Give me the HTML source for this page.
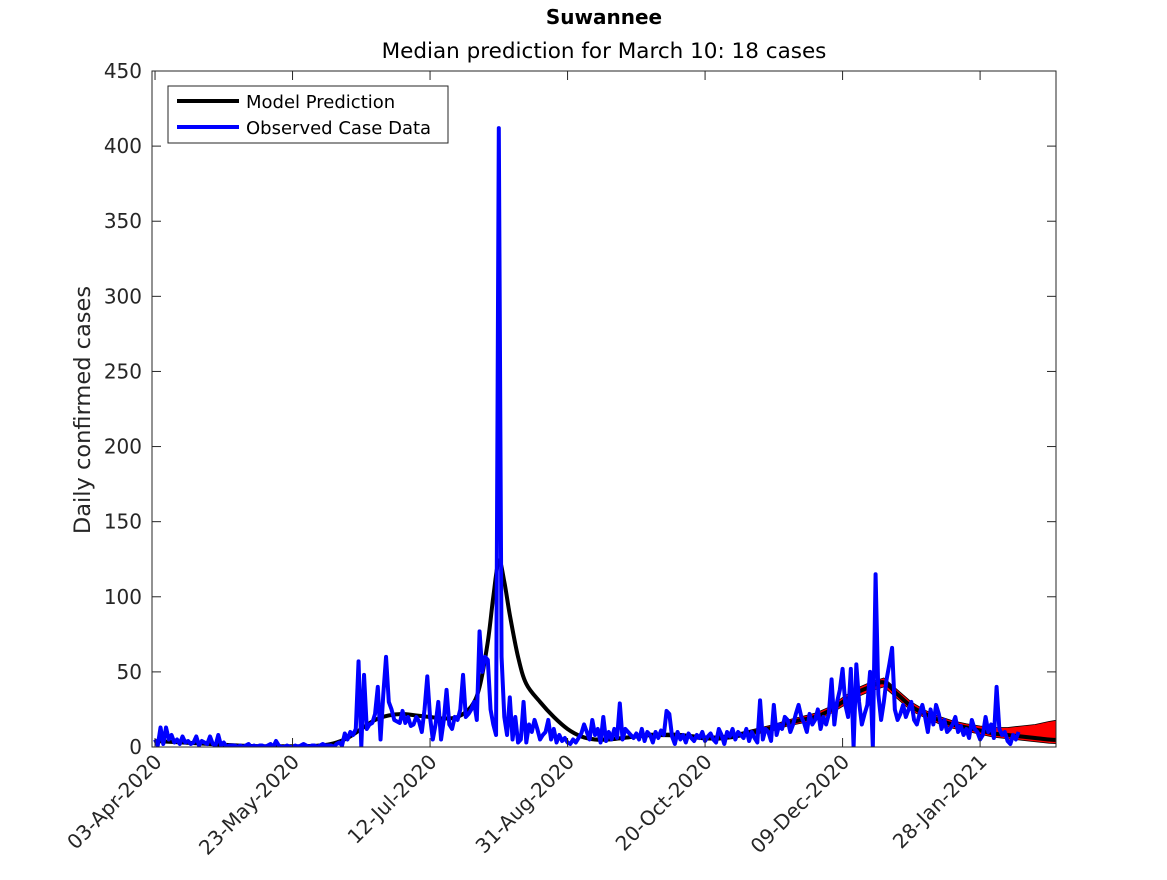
<!DOCTYPE html>
<html><head><meta charset="utf-8"><style>
html,body{margin:0;padding:0;background:#fff;}
svg text{font-family:"DejaVu Sans","Liberation Sans",sans-serif;fill:#262626;}
</style></head><body>
<svg id="chart" width="1167" height="875" viewBox="0 0 1167 875" xmlns="http://www.w3.org/2000/svg">
<rect x="0" y="0" width="1167" height="875" fill="#fff"/>
<text x="604" y="24" text-anchor="middle" font-size="20" font-weight="bold" style="fill:#000">Suwannee</text>
<text x="604" y="58" text-anchor="middle" font-size="21.5" style="fill:#000">Median prediction for March 10: 18 cases</text>
<text transform="translate(90,410) rotate(-90)" text-anchor="middle" font-size="22.5">Daily confirmed cases</text>
<g id="plot"></g>
</svg>
<script>
const tickDays = [0,50,100,150,200,250,300];
const tickLabels = ["03-Apr-2020","23-May-2020","12-Jul-2020","31-Aug-2020","20-Oct-2020","09-Dec-2020","28-Jan-2021"];
const yTicks = [0,50,100,150,200,250,300,350,400,450];
const modelDays = [0,5,10,15,20,25,30,35,40,45,50,55,60,65,70,75,80,85,90,95,100,105,110,115,118,121,123,125,127,129,132,135,140,145,150,155,160,165,170,175,180,185,190,195,200,205,210,215,220,225,230,235,240,245,250,255,260,265,270,275,280,285,290,295,300,305,310,315,320,325,330];
const modelVals = [4,3.5,3,2.5,2,1.5,1,0.7,0.5,0.5,0.5,0.6,1,2.5,6,12,18,21,22,21,20,19,20,27,40,70,100,124,110,88,60,42,30,20,12,7,5,5,6,7,8,8,8,7,6,6,7,9,11,13,16,18,20,24,30,36,40,43,35,27,22,18,15,13,11,9,8,7,6,5,4.5];
const bandUp = [0,0,0,0,0,0,0,0,0,0,0,0,0,0,0,0,0,0,0,0,0,0,0,0,0,0,0,0,0,0,0,0,0,0,0,0.5,1,1,1,1,1.2,1.2,1.3,1.3,1.4,1.5,1.5,1.6,1.8,2,2,2.2,2.5,2.5,3,3,3,3,3,3,2.5,2.5,2.5,2.5,3,4,5,7,9,12,14];
const bandDn = [0,0,0,0,0,0,0,0,0,0,0,0,0,0,0,0,0,0,0,0,0,0,0,0,0,0,0,0,0,0,0,0,0,0,0,0.5,1,1,1,1,1.2,1.2,1.3,1.3,1.4,1.5,1.5,1.6,1.8,2,2,2.2,2.5,2.5,3,3,3,3,3,3,2.5,2.5,2.5,2.5,2.5,2.5,2.5,2.5,2.5,2.5,2.5];
const observed = [5,1,13,2,13,5,8,3,5,2, 7,3,4,2,3,7,1,4,3,2, 7,2,1,8,1,3,0,1,1,1, 0,1,0,1,2,0,1,0,1,1,
0,1,2,0,4,1,0,0,1,0, 0,1,0,1,2,1,0,1,1,0, 1,2,1,1,1,0,2,3,1,9, 5,10,8,12,57,0,48,12,15,16,
22,40,5,35,60,30,25,18,17,16, 24,16,20,14,15,20,17,10,25,47, 20,5,15,30,5,18,38,15,12,20, 18,25,48,20,22,25,30,18,77,50,
60,58,25,15,8,412,60,20,8,33, 5,20,3,5,30,3,15,10,18,12, 5,8,10,18,5,12,3,8,4,6, 3,2,5,3,6,9,15,10,5,18,
8,12,3,20,4,10,5,12,6,29, 5,12,10,8,6,9,5,12,4,10, 8,3,10,6,11,8,24,22,7,2, 10,5,8,3,9,6,4,8,6,10,
4,7,9,5,3,12,8,2,10,7, 12,5,10,8,6,12,4,10,6,3, 31,5,12,10,4,28,8,15,12,20, 18,10,15,22,28,20,16,10,22,15,
18,25,12,20,15,22,45,15,30,38, 52,28,20,52,0,55,30,15,22,28, 50,0,115,35,18,30,45,55,66,25, 18,22,28,20,25,30,18,15,22,28,
20,10,25,15,28,22,12,18,10,12, 15,20,10,14,8,12,6,18,12,10, 5,8,20,10,15,6,40,12,8,10, 4,2,8,5,10];

const L=152,R=1056,T=71,B=747,xmin=-1.1,xmax=327.6,ymax=450;
const X=d=>L+(d-xmin)/(xmax-xmin)*(R-L);
const Y=v=>B-v/ymax*(B-T);
const NS="http://www.w3.org/2000/svg";
const g=document.getElementById('plot');
function mk(tag,attrs,parent){const e=document.createElementNS(NS,tag);for(const k in attrs)e.setAttribute(k,attrs[k]);(parent||g).appendChild(e);return e;}
function smooth(pts){let d='M'+pts[0][0]+','+pts[0][1];for(let i=0;i<pts.length-1;i++){const p0=pts[i-1]||pts[i],p1=pts[i],p2=pts[i+1],p3=pts[i+2]||p2;const c1=[p1[0]+(p2[0]-p0[0])/6,p1[1]+(p2[1]-p0[1])/6],c2=[p2[0]-(p3[0]-p1[0])/6,p2[1]-(p3[1]-p1[1])/6];d+=' C'+c1+' '+c2+' '+p2;}return d;}
const defs=mk('defs',{});const cp=mk('clipPath',{id:'clip'},defs);mk('rect',{x:L,y:T,width:R-L,height:B-T},cp);
const inner=mk('g',{'clip-path':'url(#clip)'});
let up=[],dn=[];
for(let i=0;i<modelDays.length;i++){up.push(X(modelDays[i])+','+Y(modelVals[i]+bandUp[i]));dn.unshift(X(modelDays[i])+','+Y(Math.max(0,modelVals[i]-bandDn[i])));}
const band=mk('polygon',{points:up.concat(dn).join(' '),fill:'#ff0000',stroke:'#000','stroke-width':0.8},inner);


const mp=mk('path',{d:smooth(modelDays.map((d,i)=>[X(d),Y(modelVals[i])])),fill:'none',stroke:'#000','stroke-width':4,'stroke-linejoin':'round'},inner);


const ob=mk('polyline',{points:observed.map((v,i)=>X(i)+','+Y(v)).join(' '),fill:'none',stroke:'#0000ff','stroke-width':4,'stroke-linejoin':'round'},inner);


const box=mk('rect',{x:L,y:T,width:R-L,height:B-T,fill:'none',stroke:'#262626','stroke-width':1});


yTicks.forEach(v=>{
  mk('line',{x1:L,x2:L+9,y1:Y(v),y2:Y(v),stroke:'#262626'});
  mk('line',{x1:R,x2:R-9,y1:Y(v),y2:Y(v),stroke:'#262626'});
  const t=mk('text',{x:L-10,y:Y(v)+7,'text-anchor':'end','font-size':20});t.textContent=v;
  
  
});
tickDays.forEach((d,i)=>{
  mk('line',{x1:X(d),x2:X(d),y1:B,y2:B-9,stroke:'#262626'});
  mk('line',{x1:X(d),x2:X(d),y1:T,y2:T+9,stroke:'#262626'});
  const t=mk('text',{transform:`translate(${X(d)+8},${B+16}) rotate(-45)`,'text-anchor':'end','font-size':20});t.textContent=tickLabels[i];
  
  
});
const lg=mk('g',{});


mk('rect',{x:168,y:86,width:280,height:57,fill:'#fff',stroke:'#262626'},lg);
mk('line',{x1:177,x2:239,y1:101,y2:101,stroke:'#000','stroke-width':4},lg);
mk('line',{x1:177,x2:239,y1:127,y2:127,stroke:'#0000ff','stroke-width':4},lg);
const t1=mk('text',{x:246,y:108,'font-size':18,style:'fill:#000'},lg);t1.textContent='Model Prediction';


const t2=mk('text',{x:246,y:134,'font-size':18,style:'fill:#000'},lg);t2.textContent='Observed Case Data';


</script>
</body></html>
